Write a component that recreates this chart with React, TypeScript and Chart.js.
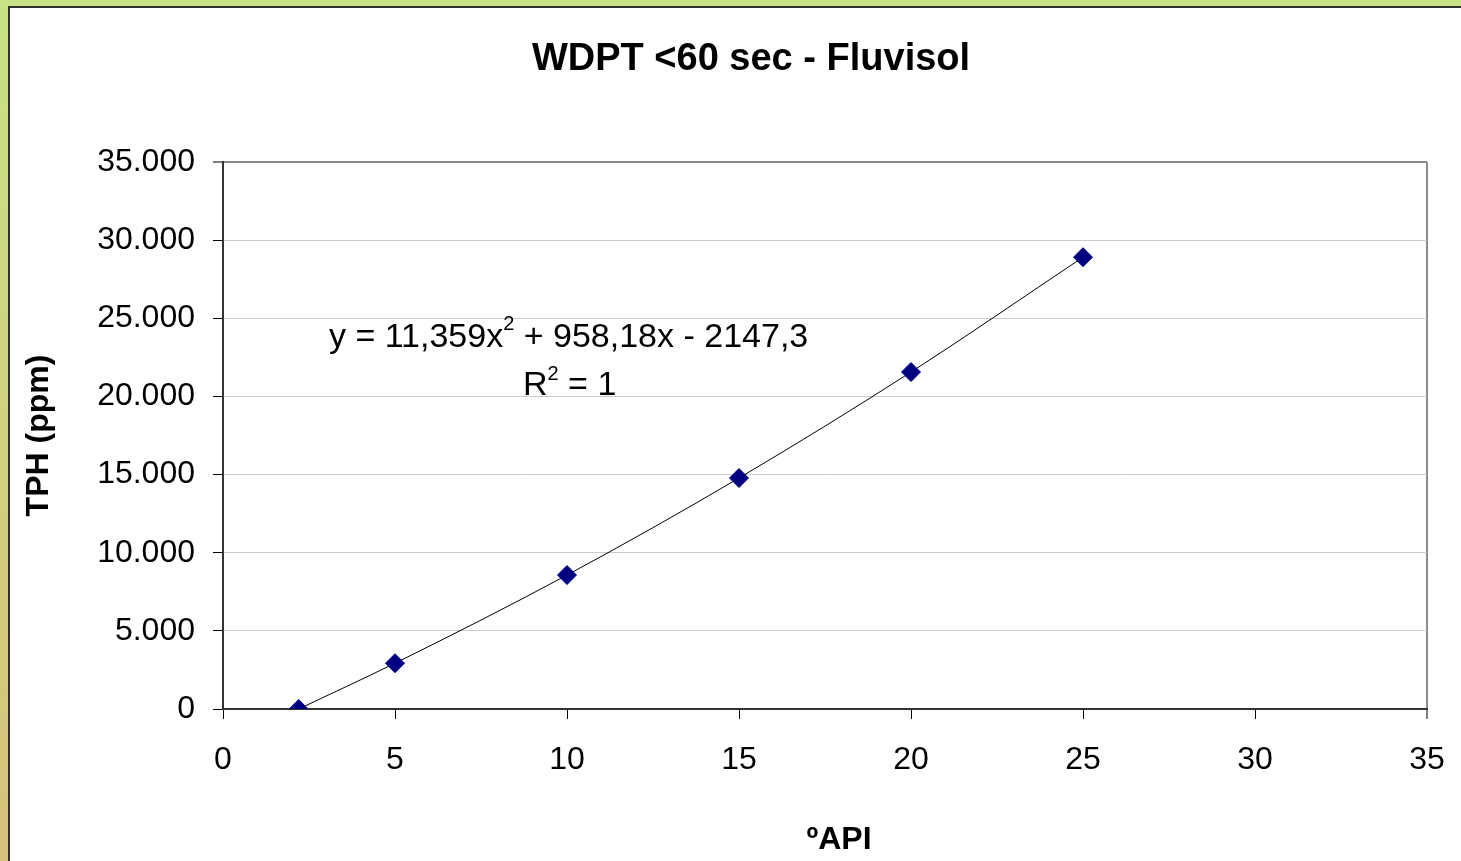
import React, { useEffect, useRef } from 'react';
import { Chart, registerables } from 'chart.js';

Chart.register(...registerables);

// ---- data ----
const apiValues = [2.2, 5, 10, 15, 20, 25];
const tphValues = [0, 2930, 8570, 14780, 21560, 28910];
const xTickValues = [0, 5, 10, 15, 20, 25, 30, 35];
const xTickLabels = ['0', '5', '10', '15', '20', '25', '30', '35'];
const yTickValues = [0, 5000, 10000, 15000, 20000, 25000, 30000, 35000];
const yTickLabels = ['0', '5.000', '10.000', '15.000', '20.000', '25.000', '30.000', '35.000'];
const chartTitle = 'WDPT <60 sec - Fluvisol';
const xTitle = 'ºAPI';
const yTitle = 'TPH (ppm)';
const equationParts = ['y = 11,359x', '2', ' + 958,18x - 2147,3'];
const rSquaredParts = ['R', '2', ' = 1'];

// label anchors (data coordinates)
const equationAnchor = { x: 3.08, y: 23160 };
const rSquaredAnchor = { x: 8.72, y: 20090 };

const FONT = '"Liberation Sans", Arial, sans-serif';

function drawSup(ctx: CanvasRenderingContext2D, parts: string[], x: number, y: number, size: number, supSize: number, rise: number) {
  ctx.textAlign = 'left';
  ctx.textBaseline = 'alphabetic';
  ctx.font = `${size}px ${FONT}`;
  ctx.fillText(parts[0], x, y);
  let cx = x + ctx.measureText(parts[0]).width;
  ctx.font = `${supSize}px ${FONT}`;
  ctx.fillText(parts[1], cx, y - rise);
  cx += ctx.measureText(parts[1]).width;
  ctx.font = `${size}px ${FONT}`;
  ctx.fillText(parts[2], cx, y);
}

const textPlugin = {
  id: 'customTexts',
  afterDraw(chart: any) {
    const { ctx } = chart;
    const xs = chart.scales.x;
    const ys = chart.scales.y;
    ctx.save();
    ctx.fillStyle = '#000';
    ctx.font = `bold 38px ${FONT}`;
    ctx.textAlign = 'center';
    ctx.textBaseline = 'middle';
    ctx.fillText(chartTitle, 741, 52);
    ctx.font = `bold 32px ${FONT}`;
    ctx.fillText(xTitle, 829, 832);
    drawSup(ctx, equationParts, xs.getPixelForValue(equationAnchor.x), ys.getPixelForValue(equationAnchor.y), 34, 20, 17);
    drawSup(ctx, rSquaredParts, xs.getPixelForValue(rSquaredAnchor.x), ys.getPixelForValue(rSquaredAnchor.y), 34, 20, 15);
    ctx.restore();
  },
};

export default function App() {
  const ref = useRef<HTMLCanvasElement | null>(null);

  useEffect(() => {
    if (!ref.current) return;
    const points = apiValues.map((v, i) => ({ x: v, y: tphValues[i] }));
    const chart = new Chart(ref.current, {
      type: 'scatter',
      data: {
        datasets: [
          {
            label: 'TPH',
            data: points,
            pointStyle: 'rectRot',
            pointRadius: 9.5,
            pointHoverRadius: 9.5,
            backgroundColor: '#000080',
            borderColor: '#000080',
            borderWidth: 1,
            showLine: false,
          },
          {
            label: 'Trend',
            data: points,
            showLine: true,
            pointRadius: 0,
            borderColor: '#000',
            borderWidth: 1,
            tension: 0.4,
            cubicInterpolationMode: 'monotone',
            fill: false,
          },
        ],
      },
      options: {
        animation: false,
        responsive: false,
        devicePixelRatio: 1,
        layout: { padding: { top: 154, left: 0, right: 0, bottom: 0 } },
        plugins: {
          legend: { display: false },
          tooltip: { enabled: false },
          title: { display: false },
        },
        scales: {
          x: {
            type: 'linear',
            min: 0,
            max: 35,
            afterBuildTicks: (s: any) => {
              s.ticks = xTickValues.map((v) => ({ value: v }));
            },
            ticks: {
              font: { family: FONT, size: 32 },
              color: '#000',
              padding: 22,
              maxRotation: 0,
              autoSkip: false,
              callback: (v: any) => {
                const i = xTickValues.indexOf(Number(v));
                return i >= 0 ? xTickLabels[i] : '';
              },
            },
            grid: {
              drawOnChartArea: true,
              color: (c: any) => (c.tick && c.tick.value === 35 ? '#8c8c8c' : 'rgba(0,0,0,0)'),
              lineWidth: (c: any) => (c.tick && c.tick.value === 35 ? 2 : 1),
              tickLength: 10,
              tickColor: '#000',
              tickWidth: 1,
            },
            border: { display: true, color: '#333', width: 2 },
            afterFit: (s: any) => {
              s.height = 152;
              s.paddingLeft = 0;
              s.paddingRight = 34;
            },
          },
          y: {
            type: 'linear',
            min: 0,
            max: 35000,
            afterBuildTicks: (s: any) => {
              s.ticks = yTickValues.map((v) => ({ value: v }));
            },
            ticks: {
              font: { family: FONT, size: 32 },
              color: '#000',
              padding: 18,
              autoSkip: false,
              callback: (v: any) => {
                const i = yTickValues.indexOf(Number(v));
                return i >= 0 ? yTickLabels[i] : '';
              },
            },
            grid: {
              drawOnChartArea: true,
              color: (c: any) => (c.tick && c.tick.value === 35000 ? '#8c8c8c' : '#cbcbcb'),
              lineWidth: (c: any) => (c.tick && c.tick.value === 35000 ? 2 : 1),
              tickLength: 10,
              tickColor: '#000',
              tickWidth: 1,
            },
            border: { display: true, color: '#333', width: 2 },
            title: {
              display: true,
              text: yTitle,
              color: '#000',
              font: { family: FONT, size: 32, weight: 'bold' },
              padding: { top: 10, bottom: 0 },
            },
            afterFit: (s: any) => {
              s.width = 213;
              s.paddingTop = 0;
              s.paddingBottom = 0;
            },
          },
        },
      },
      plugins: [textPlugin],
    } as any);
    return () => chart.destroy();
  }, []);

  return (
    <div
      style={{
        position: 'fixed',
        left: 0,
        top: 0,
        width: 1461,
        height: 861,
        overflow: 'hidden',
        background: 'linear-gradient(to bottom, #c8e285 0%, #cfd383 45%, #d6c17b 100%)',
      }}
    >
      <div
        style={{
          position: 'absolute',
          left: 8,
          top: 6,
          width: 1480,
          height: 880,
          background: '#fff',
          borderLeft: '2px solid #2f2f2f',
          borderTop: '2px solid #2f2f2f',
        }}
      >
        <canvas ref={ref} width={1451} height={853} style={{ display: 'block', width: 1451, height: 853 }} />
      </div>
    </div>
  );
}
